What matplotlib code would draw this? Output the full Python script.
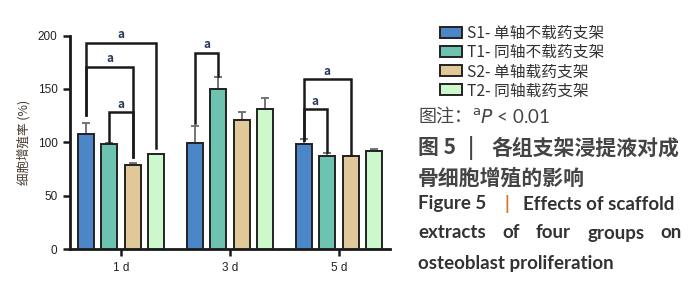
import matplotlib
matplotlib.use("Agg")
import matplotlib.pyplot as plt
import numpy as np

plt.rcParams['font.family'] = ['Noto Sans CJK SC', 'DejaVu Sans']

days = ["1 d", "3 d", "5 d"]
groups = ["S1- 单轴不载药支架", "T1- 同轴不载药支架", "S2- 单轴载药支架", "T2- 同轴载药支架"]
colors = ["#4a86c8", "#6cc4b0", "#e0c898", "#ccf8cc"]
means = {
    "S1": [107.5, 99.5, 98.0],
    "T1": [98.5, 150.0, 87.0],
    "S2": [78.5, 121.0, 87.0],
    "T2": [89.0, 131.5, 92.0],
}
errs = {
    "S1": [10.5, 15.5, 5.0],
    "T1": [1.0, 11.5, 3.0],
    "S2": [2.5, 7.0, 0.5],
    "T2": [0.5, 10.0, 1.5],
}
yticks = [0, 50, 100, 150, 200]
# brackets: (day index, bar i, bar j, top y, left leg bottom, right leg bottom)
brackets = [
    (0, 0, 3, 193.5, 125.5, 94.5),
    (0, 0, 2, 171.0, 125.5, 86.5),
    (0, 1, 2, 128.0, 100.5, 86.5),
    (1, 0, 1, 184.0, 118.5, 162.0),
    (2, 0, 2, 159.0, 102.0, 88.0),
    (2, 0, 1, 131.0, 102.0, 91.0),
]
sig_labels = ["a", "a", "a", "a", "a", "a"]

W, H = 700, 292
fig = plt.figure(figsize=(7.0, 2.92), dpi=100)
ax = fig.add_axes([0.1, 0.147, 0.457, 0.731])

step = 0.216
width = 0.147
x = np.arange(len(days))
keys = list(means.keys())
bar_containers = []
for i, k in enumerate(keys):
    xs = x + (i - 1.5) * step
    bc = ax.bar(xs, means[k], width, color=colors[i], edgecolor="#222222",
                linewidth=1.4, zorder=3, label=groups[i])
    bar_containers.append(bc)
    ax.errorbar(xs, means[k], yerr=[np.zeros(len(days)), errs[k]], fmt="none",
                ecolor="#6a6a6a", elinewidth=1.3, capsize=3, capthick=1.3, zorder=2)

for (d, i, j, top, lb, rb), lab in zip(brackets, sig_labels):
    xi = d + (i - 1.5) * step
    xj = d + (j - 1.5) * step
    ax.plot([xi, xi, xj, xj], [lb, top, top, rb], color="#1a1a1a", lw=1.8,
            solid_joinstyle="miter", clip_on=False, zorder=4)
    ax.text((xi + xj) / 2, top + 1.5, lab, ha="center", va="bottom",
            fontsize=8.5, fontweight="bold", color="#2a3a5a", zorder=5, clip_on=False)

ax.set_xlim(-0.47, 2.47)
ax.set_ylim(0, 200)
ax.set_yticks(yticks)
ax.set_yticklabels([str(v) for v in yticks], fontsize=8.5, color="#222222",
                   family=["Liberation Sans", "DejaVu Sans"])
ax.set_xticks(x)
ax.set_xticklabels(days, fontsize=8.5, color="#222222",
                   family=["Liberation Sans", "DejaVu Sans"])
ax.tick_params(axis="both", direction="out", length=5, width=1.8, color="#1a1a1a", pad=4)
for s in ["top", "right"]:
    ax.spines[s].set_visible(False)
for s in ["left", "bottom"]:
    ax.spines[s].set_linewidth(2)
    ax.spines[s].set_color("#1a1a1a")
ax.set_ylabel("细胞增殖率 (%)", fontsize=9, color="#4a3a30", labelpad=5)

leg = fig.legend(handles=bar_containers, labels=groups, loc="upper left",
                 bbox_to_anchor=(0.628, 0.915), frameon=False, fontsize=11.3,
                 handlelength=1.45, handleheight=0.7, handletextpad=0.3,
                 labelspacing=0.14, borderaxespad=0, borderpad=0)
for t in leg.get_texts():
    t.set_color("#333333")

def px(xp):
    return xp / W

def py(yp):
    return 1 - yp / H

cap_c = "#444444"
fig.text(px(418), py(117), "图注：", fontsize=13, color=cap_c, va="center")
fig.text(px(472), py(117), r"$^{\mathrm{a}}$$\mathit{P}$ < 0.01", fontsize=13.5, color=cap_c,
         va="center", family=["Lato", "DejaVu Sans"])
fig.text(px(418), py(148), "图 5", fontsize=15, color=cap_c, va="center", fontweight="bold")
fig.text(px(468), py(148), "|", fontsize=15, color=cap_c, va="center", fontweight="bold")
fig.text(px(491), py(148), "各组支架浸提液对成", fontsize=15, color=cap_c, va="center",
         fontweight="bold")
fig.text(px(418), py(178), "骨细胞增殖的影响", fontsize=15, color=cap_c, va="center",
         fontweight="bold")

en_c = "#333333"
en_font = ["Lato", "DejaVu Sans"]
en_fs = 13.5
fig.text(px(418), py(204), "Figure 5", fontsize=en_fs, color=en_c,
         va="center", fontweight="bold", family=en_font)
fig.text(px(505), py(204), "|", fontsize=en_fs, color="#d07a30",
         va="center", fontweight="bold", family=en_font)
fig.text(px(523), py(204), "Effects of scaffold", fontsize=en_fs, color=en_c,
         va="center", fontweight="bold", family=en_font)

# justified second line
renderer = fig.canvas.get_renderer()
words = ["extracts", "of", "four", "groups", "on"]
wts = [fig.text(0, py(233), w, fontsize=en_fs, color=en_c, va="center",
                fontweight="bold", family=en_font) for w in words]
widths = [t.get_window_extent(renderer).width for t in wts]
left, right = 418, 682
gap = (right - left - sum(widths)) / (len(words) - 1)
cur = left
for t, wd in zip(wts, widths):
    t.set_x(px(cur))
    cur += wd + gap

fig.text(px(418), py(263), "osteoblast proliferation", fontsize=en_fs, color=en_c,
         va="center", fontweight="bold", family=en_font)

fig.savefig("out.png", dpi=100)
